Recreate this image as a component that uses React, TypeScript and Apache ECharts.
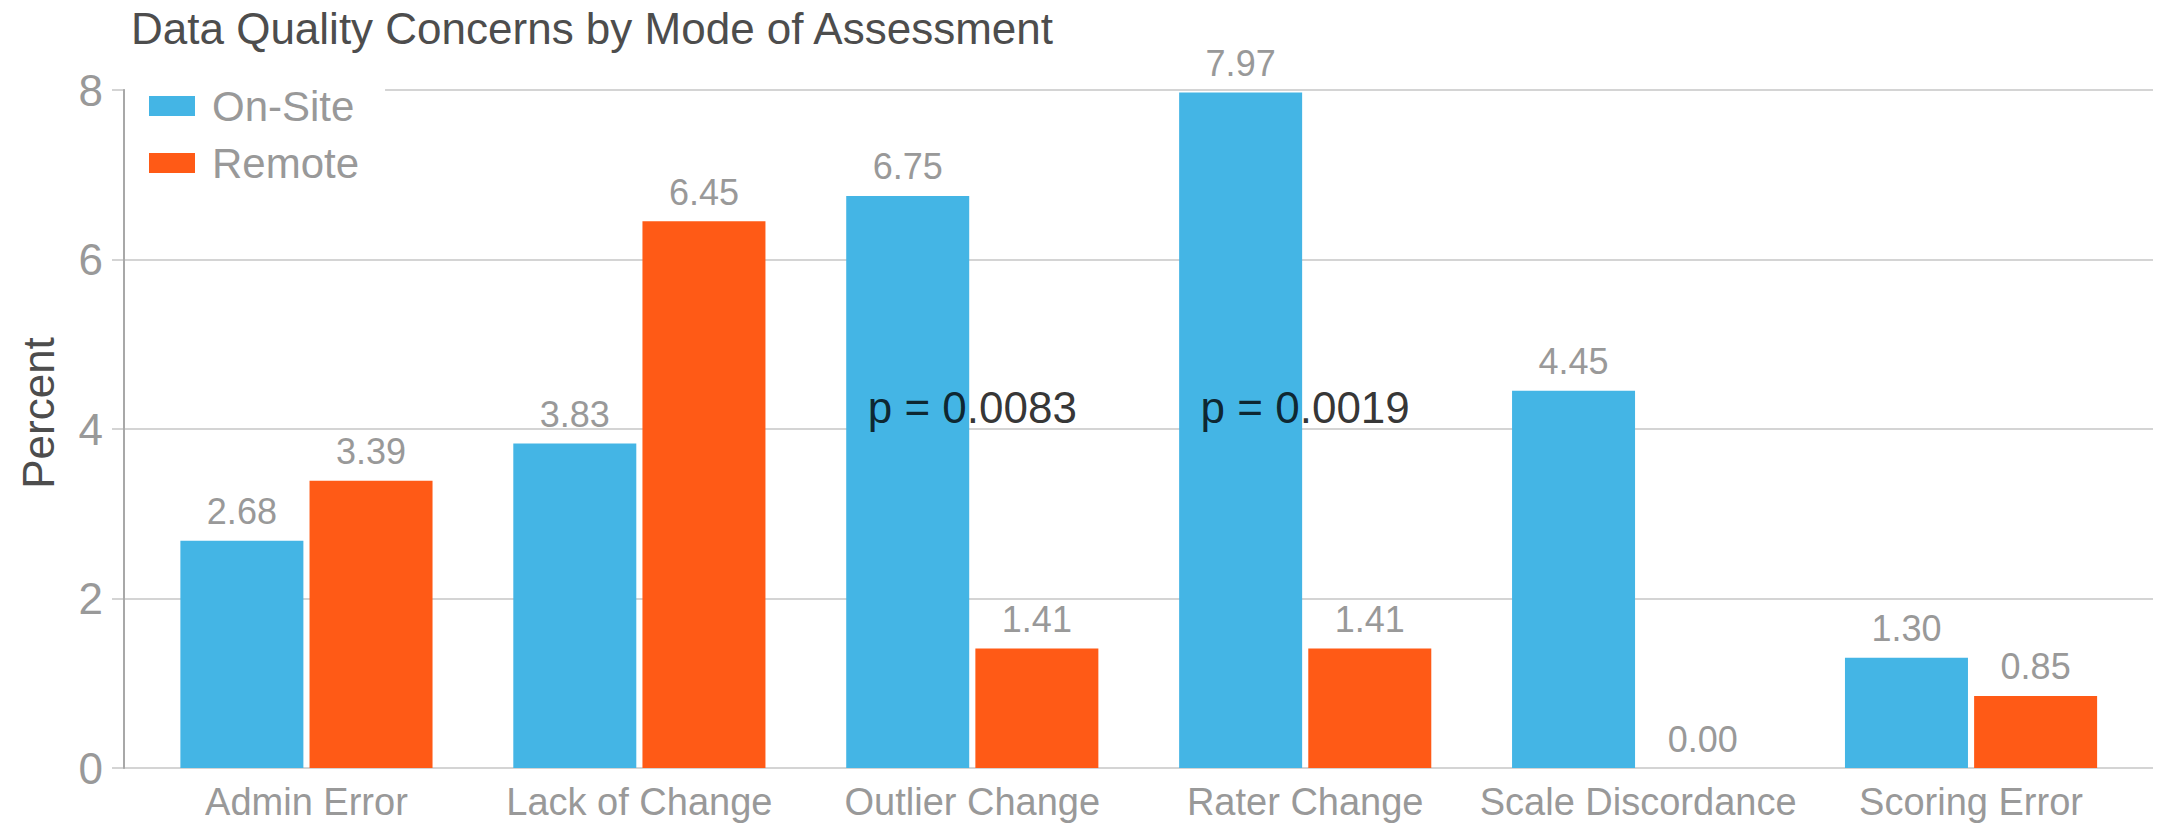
import React, { useEffect, useRef } from "react";
import * as echarts from "echarts";

const categories = [
  "Admin Error",
  "Lack of Change",
  "Outlier Change",
  "Rater Change",
  "Scale Discordance",
  "Scoring Error",
];
const onSite = [2.68, 3.83, 6.75, 7.97, 4.45, 1.3];
const remote = [3.39, 6.45, 1.41, 1.41, 0.0, 0.85];
const annotationCategories = ["Outlier Change", "Rater Change"];
const annotationY = [4.25, 4.25];
const annotationText = ["p = 0.0083", "p = 0.0019"];
const yTicks = { min: 0, max: 8, interval: 2 };

const FONT = "'Liberation Sans', Arial, Helvetica, sans-serif";
const BLUE = "#44B5E5";
const ORANGE = "#FF5A16";
const GRAY = "#999999";
const DARK = "#4d4d4d";

export default function App() {
  const ref = useRef<HTMLDivElement>(null);
  useEffect(() => {
    if (!ref.current) return;
    const chart = echarts.init(ref.current, undefined, { renderer: "svg" });
    const valueLabel = {
      show: true,
      position: "top" as const,
      distance: 11,
      color: GRAY,
      fontSize: 36,
      fontFamily: FONT,
      formatter: (p: any) => Number(p.value).toFixed(2),
    };
    chart.setOption({
      animation: false,
      backgroundColor: "#ffffff",
      title: {
        text: "Data Quality Concerns by Mode of Assessment",
        left: 131,
        top: 6,
        padding: 0,
        textStyle: { fontFamily: FONT, fontSize: 44, fontWeight: "normal", color: DARK },
      },
      legend: {
        data: ["On-Site", "Remote"],
        orient: "vertical",
        left: 125,
        top: 80,
        padding: [5, 26, 5, 24],
        backgroundColor: "#ffffff",
        itemWidth: 46,
        itemHeight: 20,
        itemGap: 15,
        icon: "rect",
        textStyle: {
          fontFamily: FONT,
          fontSize: 42,
          lineHeight: 42,
          color: GRAY,
          padding: [0, 0, 0, 12],
        },
      },
      graphic: [
        {
          type: "text",
          x: 38,
          y: 413,
          rotation: Math.PI / 2,
          style: {
            text: "Percent",
            font: `44px ${FONT}`,
            fill: DARK,
            align: "center",
            verticalAlign: "middle",
          },
        },
      ],
      grid: [
        { left: 140, right: 20.5, top: 90, bottom: 56 },
        { left: 112, right: 5, top: 90, bottom: 56 },
        { left: 124, right: 5, top: 90, bottom: 56 },
      ],
      xAxis: [
        {
          gridIndex: 0,
          type: "category",
          data: categories,
          axisLine: { show: false },
          axisTick: { show: false },
          axisLabel: {
            color: GRAY,
            fontSize: 38,
            fontFamily: FONT,
            margin: 15,
            interval: 0,
          },
          z: 5,
        },
        { gridIndex: 1, type: "value", show: false },
        { gridIndex: 2, type: "value", show: false },
      ],
      yAxis: [
        {
          gridIndex: 0,
          type: "value",
          ...yTicks,
          show: false,
          splitLine: { show: false },
        },
        {
          gridIndex: 1,
          type: "value",
          ...yTicks,
          axisLine: { show: false },
          axisTick: { show: false },
          axisLabel: { color: GRAY, fontSize: 44, fontFamily: FONT, margin: 9 },
          splitLine: { show: true, lineStyle: { color: "#d4d4d4", width: 2 } },
        },
        {
          gridIndex: 2,
          type: "value",
          ...yTicks,
          axisLine: { show: true, lineStyle: { color: "#a8a8a8", width: 2 } },
          axisTick: { show: false },
          axisLabel: { show: false },
          splitLine: { show: false },
        },
      ],
      series: [
        {
          name: "On-Site",
          type: "bar",
          xAxisIndex: 0,
          yAxisIndex: 0,
          data: onSite,
          barWidth: 123,
          barGap: "5%",
          itemStyle: { color: BLUE },
          label: valueLabel,
        },
        {
          name: "Remote",
          type: "bar",
          xAxisIndex: 0,
          yAxisIndex: 0,
          data: remote,
          barWidth: 123,
          barGap: "5%",
          itemStyle: { color: ORANGE },
          label: valueLabel,
        },
        {
          name: "annotations",
          type: "scatter",
          xAxisIndex: 0,
          yAxisIndex: 0,
          symbolSize: 0,
          z: 10,
          data: annotationCategories.map((c, i) => [c, annotationY[i]]),
          label: {
            show: true,
            position: "inside",
            color: "#000000",
            fontSize: 44,
            fontFamily: FONT,
            formatter: (p: any) => annotationText[p.dataIndex],
          },
        },
      ],
    });
    return () => chart.dispose();
  }, []);
  return (
    <div
      ref={ref}
      style={{ position: "fixed", left: 0, top: 0, width: 2158, height: 824 }}
    />
  );
}
